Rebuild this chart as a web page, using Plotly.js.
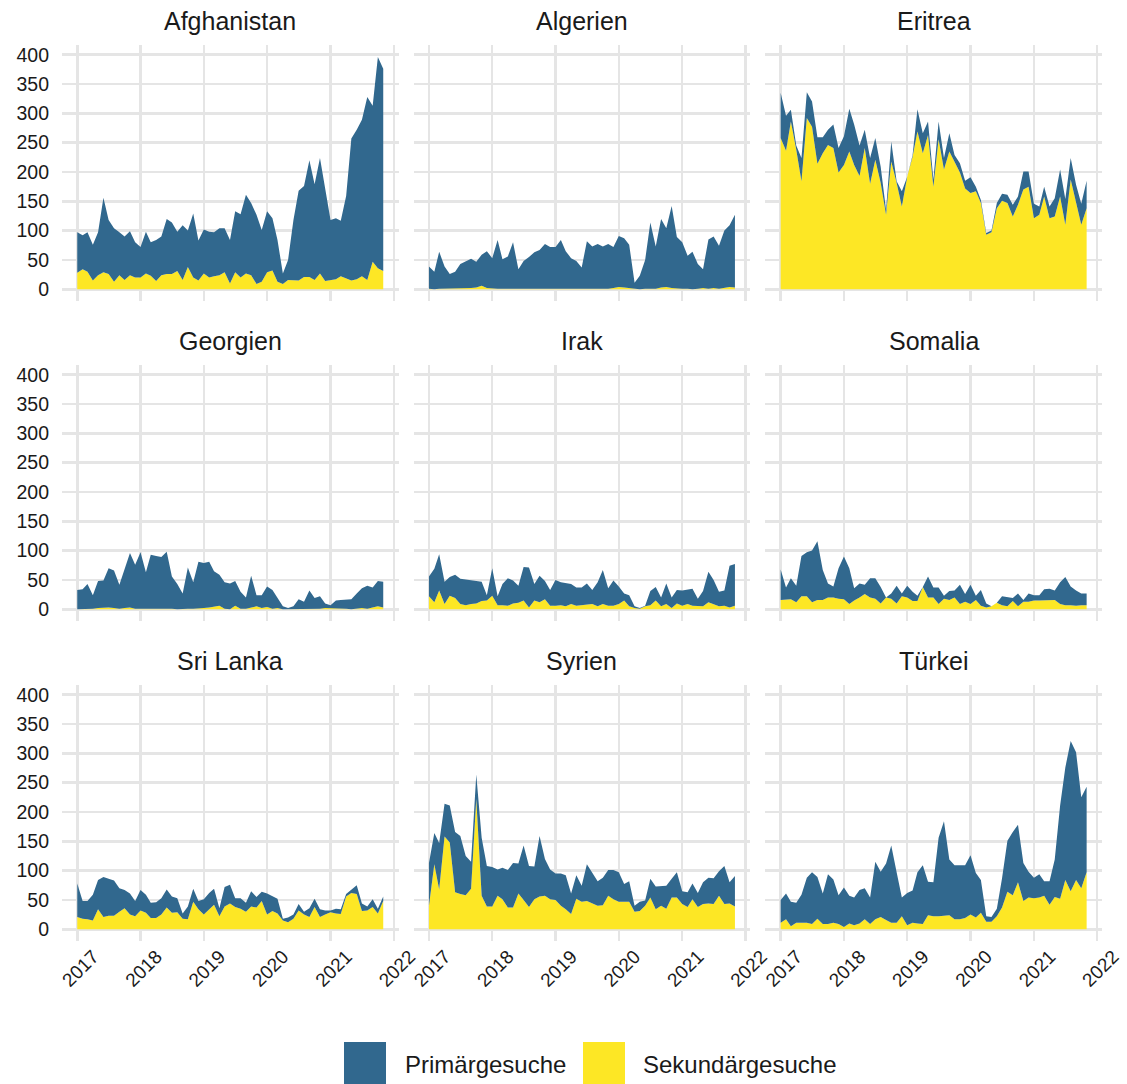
<!DOCTYPE html>
<html>
<head>
<meta charset="utf-8">
<script src="https://cdn.plot.ly/plotly-3.0.1.min.js"></script>
<style>html,body{margin:0;padding:0;background:#fff;}</style>
</head>
<body>
<div id="chart" style="width:1127px;height:1084px;"></div>
<script>
// Monthly values, Jan 2017 – Nov 2021 (59 months)
// *_total = top of blue area (Primär + Sekundär), *_sek = Sekundärgesuche
var countries = ["Afghanistan","Algerien","Eritrea","Georgien","Irak","Somalia","Sri Lanka","Syrien","Türkei"];
var seriesNames = ["Primärgesuche","Sekundärgesuche"];
var yTicks = [0,50,100,150,200,250,300,350,400];
var xTickLabels = ["2017","2018","2019","2020","2021","2022"];

var afg_total = [97,92,97,76,97,156,118,104,97,90,99,80,72,98,80,84,90,120,114,98,109,100,129,83,102,98,97,104,104,84,133,128,161,147,127,101,133,121,84,27,50,118,168,176,220,179,224,172,118,121,117,159,257,272,289,328,313,396,376];
var afg_sek = [28,34,30,15,24,29,26,13,24,16,24,20,20,27,23,14,24,26,26,31,16,38,20,15,27,20,22,24,29,10,29,20,27,24,9,13,29,32,13,9,16,16,15,21,21,16,27,14,15,17,22,18,15,17,22,16,47,36,31];

var alg_total = [39,30,64,39,26,30,43,47,52,47,59,65,53,84,51,56,80,34,48,55,63,67,77,72,72,84,65,53,48,37,82,73,77,73,77,72,91,87,76,11,23,50,114,73,120,104,142,89,80,57,64,43,34,85,90,74,100,109,127];
var alg_sek = [1,0,1,1,2,2,1,2,2,3,6,2,1,1,1,1,1,0,1,1,1,1,1,1,1,1,1,1,0,0,0,0,0,0,1,2,4,3,2,0,0,1,1,1,3,4,2,1,1,1,0,1,2,1,2,1,3,4,3];

var eri_total = [335,296,306,245,224,336,320,259,259,272,281,241,261,308,281,245,272,224,258,209,135,252,184,167,192,229,307,266,286,187,286,224,266,229,215,185,191,175,152,96,100,147,163,161,144,158,201,201,146,141,175,141,155,204,154,224,178,146,185];
var eri_sek = [258,236,286,238,184,292,277,214,232,246,241,199,212,235,212,193,241,180,221,181,127,218,181,141,192,226,269,232,263,175,256,204,235,218,199,172,164,167,147,93,97,138,151,147,124,144,170,175,121,127,158,121,124,158,110,187,147,110,138];

var geo_total = [33,34,43,24,48,49,70,66,42,70,96,76,97,63,93,91,89,98,56,43,27,71,46,81,79,81,65,59,46,44,48,30,20,57,24,24,39,33,20,5,2,5,17,13,32,19,22,10,7,15,16,16,17,27,36,40,37,48,47];
var geo_sek = [0,0,1,1,2,3,3,2,1,2,3,1,1,1,1,1,2,2,1,0,1,1,1,1,2,3,4,6,1,0,6,1,1,3,5,2,4,1,2,0,0,0,1,1,1,1,1,2,2,1,1,1,0,1,2,1,3,5,3];

var irak_total = [56,69,94,47,55,59,52,51,50,49,47,24,70,22,43,53,49,40,72,71,43,57,48,33,50,46,44,43,37,37,44,33,46,67,36,49,39,27,24,5,2,6,31,38,20,44,20,33,32,33,35,18,31,64,50,30,32,74,77];
var irak_sek = [22,12,32,9,23,19,9,7,9,10,14,15,23,7,7,6,10,11,15,3,15,12,17,6,6,7,5,9,6,7,7,9,5,9,6,6,9,15,5,2,1,5,7,15,5,9,2,10,6,9,6,5,5,12,9,5,6,3,6];

var som_total = [68,37,53,40,91,97,100,116,67,44,39,70,90,70,36,44,42,53,53,38,19,27,40,27,40,30,23,30,56,37,37,23,31,32,42,26,42,23,33,10,5,11,22,20,19,27,16,27,24,24,34,35,32,46,55,39,32,27,27];
var som_sek = [16,16,17,12,22,22,12,16,16,20,20,18,17,9,15,20,26,20,18,10,20,18,10,22,20,14,14,38,20,20,9,18,16,20,9,13,9,16,6,3,5,11,7,5,14,5,13,13,15,15,15,16,16,9,7,7,6,7,7];

var sri_total = [78,48,48,59,84,89,86,83,70,67,61,48,67,59,45,46,53,68,56,53,27,39,69,48,51,62,69,36,72,76,53,53,45,65,55,64,61,56,52,18,20,25,43,30,36,52,34,32,32,35,34,60,67,75,44,39,51,35,56];
var sri_sek = [21,18,17,15,34,21,23,23,30,36,25,22,32,28,19,19,25,37,28,29,18,17,47,34,25,34,42,22,39,44,38,35,30,39,37,48,25,31,27,15,12,18,32,25,21,38,21,25,29,27,26,56,62,60,31,32,38,27,48];

var syr_total = [113,164,147,214,211,166,159,125,115,264,156,108,106,102,105,101,113,112,143,108,107,159,120,102,95,95,92,61,92,74,111,96,82,88,101,101,97,77,82,40,47,49,86,73,74,74,86,97,65,63,78,62,80,88,87,99,108,80,91];
var syr_sek = [40,111,68,158,148,63,60,58,69,222,57,39,39,57,51,37,37,61,50,38,51,56,57,51,50,40,34,26,52,47,48,44,40,41,57,51,47,47,47,30,31,40,54,34,40,35,54,54,43,38,51,38,43,44,43,57,43,44,39];

var tur_total = [50,61,47,45,59,88,97,89,61,94,85,58,71,57,54,67,70,54,115,98,112,143,97,54,62,66,97,109,81,80,156,184,119,109,109,109,126,96,84,22,21,35,87,151,166,178,113,98,88,94,82,82,119,211,276,321,302,225,243];
var tur_sek = [11,17,5,11,11,11,9,18,9,9,11,9,4,10,7,10,17,9,17,21,16,11,11,22,7,11,10,9,24,22,22,23,24,17,17,19,25,20,28,13,13,22,37,64,58,80,48,54,53,54,57,42,55,52,84,65,84,70,97];

var totals = [afg_total, alg_total, eri_total, geo_total, irak_total, som_total, sri_total, syr_total, tur_total];
var seks = [afg_sek, alg_sek, eri_sek, geo_sek, irak_sek, som_sek, sri_sek, syr_sek, tur_sek];

// month dates
var months = [];
for (var y = 2017; y <= 2021; y++) {
  for (var m = 1; m <= 12; m++) {
    if (y === 2021 && m > 11) break;
    months.push(y + "-" + (m < 10 ? "0" + m : m) + "-01");
  }
}

var BLUE = "#31688E", YELLOW = "#FDE725";
var W = 1127, H = 1084;
var colPx = [[62, 398.5], [413.7, 750.2], [765.4, 1101.9]];
var rowPx = [[44.8, 300.9], [364.8, 620.9], [684.8, 940.9]];
var FONT = "Liberation Sans, Arial, sans-serif";

var data = [];
var layout = {
  width: W, height: H,
  margin: {l: 0, r: 0, t: 0, b: 0},
  paper_bgcolor: "#ffffff", plot_bgcolor: "#ffffff",
  showlegend: false,
  font: {family: FONT, color: "#1a1a1a"},
  annotations: [], shapes: []
};

for (var k = 0; k < 9; k++) {
  var r = Math.floor(k / 3), c = k % 3;
  var ax = k === 0 ? "" : String(k + 1);
  var prim = totals[k].map(function (t, i) { return Math.max(0, t - seks[k][i]); });
  data.push({
    type: "scatter", mode: "lines", x: months, y: seks[k], name: seriesNames[1],
    xaxis: "x" + ax, yaxis: "y" + ax, stackgroup: "g" + k,
    line: {width: 0, color: YELLOW}, fillcolor: YELLOW, hoverinfo: "x+y+name"
  });
  data.push({
    type: "scatter", mode: "lines", x: months, y: prim, name: seriesNames[0],
    xaxis: "x" + ax, yaxis: "y" + ax, stackgroup: "g" + k,
    line: {width: 0, color: BLUE}, fillcolor: BLUE, hoverinfo: "x+y+name"
  });
  layout["xaxis" + ax] = {
    domain: [colPx[c][0] / W, colPx[c][1] / W],
    anchor: "y" + ax,
    type: "date",
    range: ["2016-10-05", "2022-01-28"],
    tickvals: ["2017-01-01","2018-01-01","2019-01-01","2020-01-01","2021-01-01","2022-01-01"],
    ticktext: xTickLabels,
    tickangle: -45,
    ticklabelshift: 16,
    showticklabels: r === 2,
    ticks: "", showline: false, zeroline: false,
    showgrid: true, gridcolor: "#e5e5e5", gridwidth: 2.5,
    tickfont: {size: 19, family: FONT, color: "#1a1a1a"},
    fixedrange: true
  };
  layout["yaxis" + ax] = {
    domain: [1 - rowPx[r][1] / H, 1 - rowPx[r][0] / H],
    anchor: "x" + ax,
    range: [-19.85, 416.85],
    tickvals: yTicks,
    ticktext: yTicks.map(String),
    showticklabels: c === 0,
    ticks: "", showline: false, zeroline: false,
    showgrid: true, gridcolor: "#e5e5e5", gridwidth: 2.5,
    tickfont: {size: 19.5, family: FONT, color: "#1a1a1a"},
    ticklabelstandoff: 12,
    fixedrange: true
  };
  layout.annotations.push({
    text: countries[k], xref: "paper", yref: "paper",
    x: (colPx[c][0] + colPx[c][1]) / 2 / W,
    y: 1 - (rowPx[r][0] - 24) / H,
    xanchor: "center", yanchor: "middle", showarrow: false,
    font: {size: 25, family: FONT, color: "#1a1a1a"}
  });
}

// custom legend at the bottom
var legendItems = [
  {name: seriesNames[0], color: BLUE, box: [344, 386], textX: 403},
  {name: seriesNames[1], color: YELLOW, box: [583, 625], textX: 641}
];
legendItems.forEach(function (it) {
  layout.shapes.push({
    type: "rect", xref: "paper", yref: "paper",
    x0: it.box[0] / W, x1: it.box[1] / W,
    y0: 1 - 1084 / H, y1: 1 - 1042 / H,
    fillcolor: it.color, line: {width: 0}
  });
  layout.annotations.push({
    text: it.name, xref: "paper", yref: "paper",
    x: it.textX / W, y: 1 - 1064 / H,
    xanchor: "left", yanchor: "middle", showarrow: false,
    font: {size: 24, family: FONT, color: "#1a1a1a"}
  });
});

Plotly.newPlot("chart", data, layout, {staticPlot: true, displayModeBar: false});
</script>
</body>
</html>
